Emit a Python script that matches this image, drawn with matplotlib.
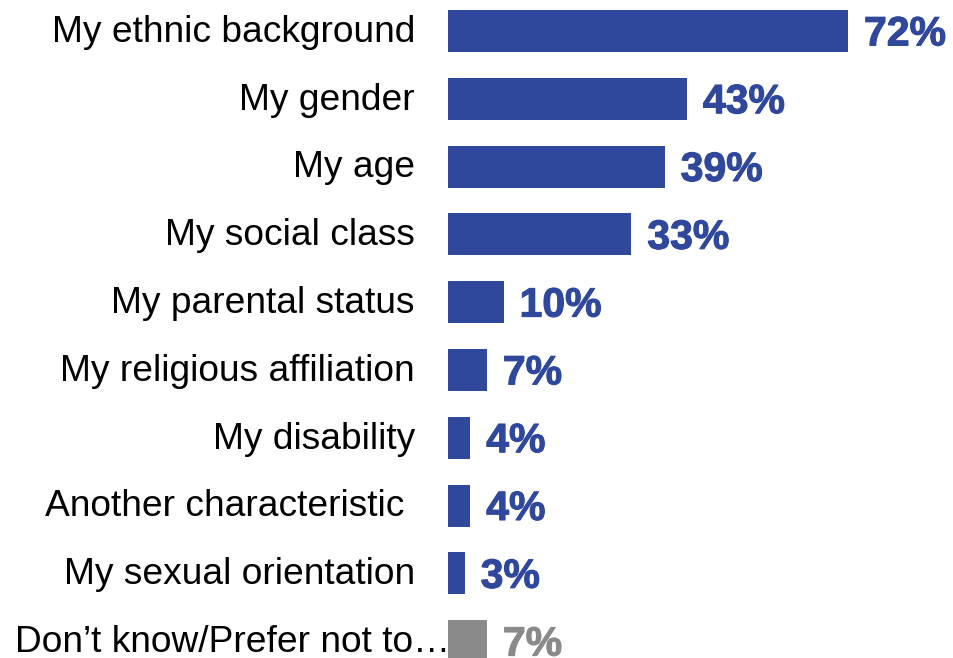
import matplotlib
matplotlib.use("Agg")
from matplotlib import pyplot as plt
import matplotlib.patheffects as pe

plt.rcParams['font.family'] = ['Liberation Sans', 'DejaVu Sans']

categories = ["My ethnic background", "My gender", "My age", "My social class",
              "My parental status", "My religious affiliation", "My disability",
              "Another characteristic ", "My sexual orientation",
              "Don\u2019t know/Prefer not to\u2026"]
values = [72, 43, 39, 33, 10, 7, 4, 4, 3, 7]
value_labels = ["72%", "43%", "39%", "33%", "10%", "7%", "4%", "4%", "3%", "7%"]

blue = "#2f489c"
grey = "#8a8a8a"
colors = [blue] * 9 + [grey]

W, H = 954, 658
fig = plt.figure(figsize=(W / 100, H / 100), dpi=100)
# bars start at x=448px, rows spaced ~67.8px from the top
ax = fig.add_axes([448 / W, 0, 1 - 448 / W, 1])
px_per_pct = 400 / 72
row = 67.8
ax.set_xlim(0, (W - 448) / px_per_pct)
ax.set_ylim((H - 31) / row, -31 / row)

y = list(range(len(categories)))
ax.barh(y, values, height=42 / row, color=colors)

for i, (cat, v, lab, c) in enumerate(zip(categories, values, value_labels, colors)):
    if i == len(categories) - 1:
        lx = 2 / px_per_pct
    else:
        lx = -33 / px_per_pct
    ax.text(lx, i + 0.02, cat, ha='right', va='center', fontsize=26.7, color='black',
            clip_on=False)
    ax.text(v + 16 / px_per_pct, i + 0.05, lab, ha='left', va='center',
            fontsize=29.5, fontweight='bold', color=c, clip_on=False,
            path_effects=[pe.withStroke(linewidth=0.8, foreground=c)])

ax.axis('off')
fig.savefig("out.png", dpi=100)
